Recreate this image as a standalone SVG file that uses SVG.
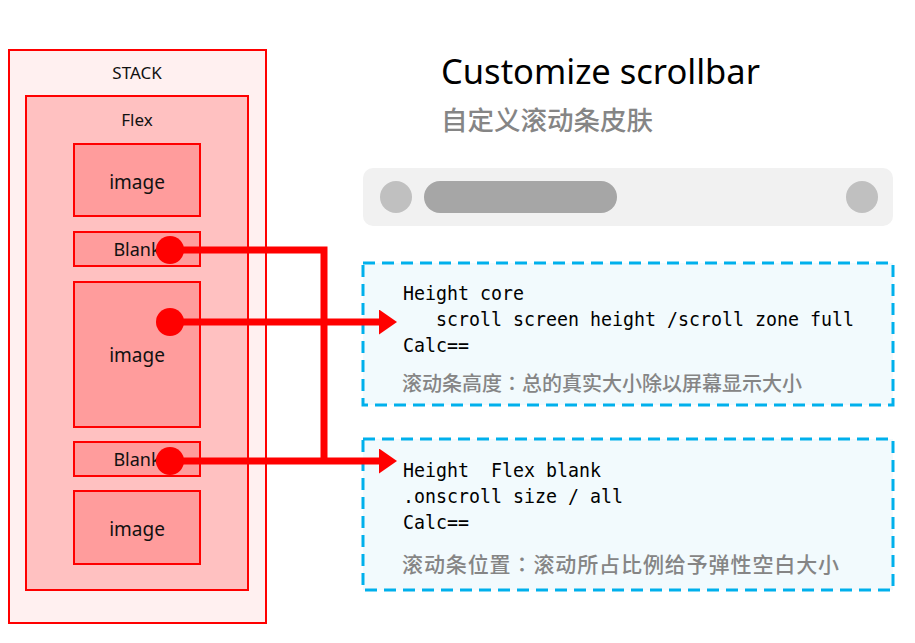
<svg xmlns="http://www.w3.org/2000/svg" width="915" height="643" viewBox="0 0 915 643">
<defs>
<style>
.box{stroke:#ff0000;stroke-width:2}
.lbl{font-family:"Noto Sans","Liberation Sans",sans-serif;fill:#111;text-anchor:middle}
.code{font-family:"DejaVu Sans Mono","Liberation Mono",monospace;font-size:20px;fill:#000}
.cn{font-family:"Noto Sans CJK TC","Noto Sans CJK SC",sans-serif;fill:#858585;font-weight:500}
.note{fill:#f2fafd;stroke:#00b0ec;stroke-width:3;stroke-dasharray:12 7}
.conn{fill:none;stroke:#ff0000;stroke-width:7}
</style>
<marker id="arr" markerUnits="userSpaceOnUse" markerWidth="20" markerHeight="28" refX="4" refY="12.5" orient="auto">
<path d="M0,0 L18,12.5 L0,25 Z" fill="#ff0000"/>
</marker>
</defs>
<rect width="915" height="643" fill="#ffffff"/>

<g id="stack">
<rect class="box" x="9" y="50" width="257" height="573" fill="#fff0f0"/>
<text class="lbl" x="137" y="79" font-size="17">STACK</text>
</g>
<g id="flex">
<rect class="box" x="26" y="96" width="222" height="494" fill="#ffc1c1"/>
<text class="lbl" x="137" y="126" font-size="17">Flex</text>
</g>
<g id="image1">
<rect class="box" x="74" y="144" width="126" height="72" fill="#ff9c9c"/>
<text class="lbl" x="137" y="189" font-size="19">image</text>
</g>
<g id="blank1">
<rect class="box" x="74" y="232" width="126" height="34" fill="#ff9c9c"/>
<text class="lbl" x="137" y="256" font-size="18">Blank</text>
</g>
<g id="image2">
<rect class="box" x="74" y="282" width="126" height="145" fill="#ff9c9c"/>
<text class="lbl" x="137" y="362" font-size="19">image</text>
</g>
<g id="blank2">
<rect class="box" x="74" y="442" width="126" height="34" fill="#ff9c9c"/>
<text class="lbl" x="137" y="466" font-size="18">Blank</text>
</g>
<g id="image3">
<rect class="box" x="74" y="491" width="126" height="73" fill="#ff9c9c"/>
<text class="lbl" x="137" y="536" font-size="19">image</text>
</g>

<g id="title">
<text x="441" y="84" font-family="'Noto Sans','Liberation Sans',sans-serif" font-size="34.5" fill="#000">Customize scrollbar</text>
<text class="cn" x="441" y="130" font-size="26.5">自定义滚动条皮肤</text>
</g>

<g id="scrollbar">
<rect x="363" y="168" width="530" height="58" rx="10" fill="#f1f1f1"/>
<circle cx="396" cy="197" r="16" fill="#c0c0c0"/>
<rect x="424" y="181" width="193" height="32" rx="16" fill="#a6a6a6"/>
<circle cx="862" cy="197" r="16" fill="#c0c0c0"/>
</g>

<g id="note1">
<rect class="note" x="363" y="263" width="530" height="142"/>
<text class="code" x="403" y="300" textLength="121" lengthAdjust="spacingAndGlyphs">Height core</text>
<text class="code" x="436" y="326" textLength="418" lengthAdjust="spacingAndGlyphs">scroll screen height /scroll zone full</text>
<text class="code" x="403" y="352" textLength="66" lengthAdjust="spacingAndGlyphs">Calc==</text>
<text class="cn" x="402" y="391" font-size="20">滚动条高度：总的真实大小除以屏幕显示大小</text>
</g>

<g id="note2">
<rect class="note" x="363" y="439" width="530" height="151"/>
<text class="code" x="403" y="477" xml:space="preserve" textLength="198" lengthAdjust="spacingAndGlyphs">Height  Flex blank</text>
<text class="code" x="403" y="503" textLength="220" lengthAdjust="spacingAndGlyphs">.onscroll size / all</text>
<text class="code" x="403" y="529" textLength="66" lengthAdjust="spacingAndGlyphs">Calc==</text>
<text class="cn" x="402" y="572" font-size="21" letter-spacing="0.9">滚动条位置：滚动所占比例给予弹性空白大小</text>
</g>

<g id="connectors">
<path class="conn" d="M170,250 H324 V464"/>
<path class="conn" d="M170,322 H383" marker-end="url(#arr)"/>
<path class="conn" d="M170,461 H383" marker-end="url(#arr)"/>
<circle cx="170" cy="250" r="14" fill="#ff0000"/>
<circle cx="170" cy="322" r="14" fill="#ff0000"/>
<circle cx="170" cy="461" r="14" fill="#ff0000"/>
</g>
</svg>
